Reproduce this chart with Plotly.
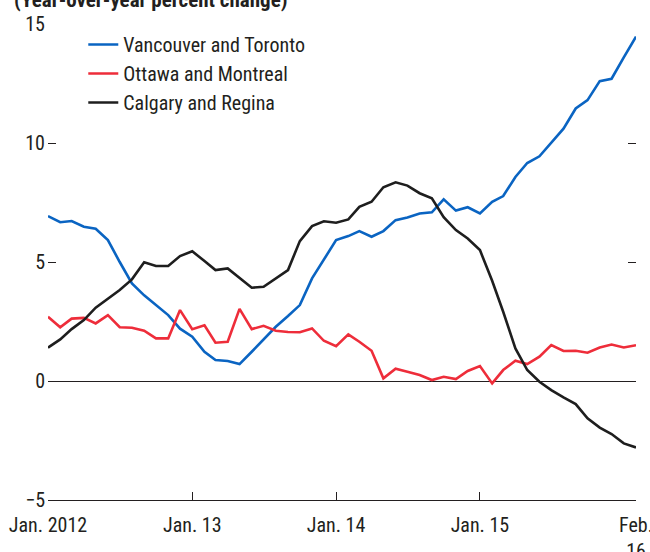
import plotly.graph_objects as go
import pandas as pd

months = pd.date_range("2012-01-01", periods=50, freq="MS")

vancouver_toronto = [6.93, 6.67, 6.72, 6.48, 6.40, 5.92, 5.00, 4.10, 3.60, 3.20,
                     2.77, 2.20, 1.86, 1.23, 0.88, 0.84, 0.71, 1.23, 1.75, 2.28,
                     2.73, 3.19, 4.31, 5.08, 5.92, 6.09, 6.30, 6.06, 6.30, 6.76,
                     6.87, 7.04, 7.09, 7.63, 7.16, 7.30, 7.04, 7.53, 7.77, 8.57,
                     9.16, 9.44, 10.00, 10.60, 11.45, 11.80, 12.60, 12.70, 13.60, 14.47]

ottawa_montreal = [2.70, 2.26, 2.62, 2.65, 2.42, 2.77, 2.26, 2.24, 2.11, 1.79,
                   1.79, 2.98, 2.18, 2.34, 1.61, 1.65, 3.03, 2.18, 2.32, 2.11,
                   2.06, 2.05, 2.21, 1.69, 1.46, 1.96, 1.65, 1.27, 0.11, 0.52,
                   0.39, 0.25, 0.04, 0.18, 0.08, 0.42, 0.63, -0.10, 0.46, 0.85,
                   0.71, 1.02, 1.51, 1.26, 1.27, 1.19, 1.41, 1.53, 1.41, 1.50]

calgary_regina = [1.40, 1.75, 2.18, 2.56, 3.08, 3.45, 3.82, 4.27, 4.99, 4.83,
                  4.83, 5.25, 5.45, 5.04, 4.66, 4.73, 4.34, 3.92, 3.96, 4.30,
                  4.66, 5.88, 6.51, 6.71, 6.65, 6.79, 7.32, 7.53, 8.14, 8.35,
                  8.21, 7.89, 7.68, 6.88, 6.34, 5.99, 5.50, 4.21, 2.91, 1.37,
                  0.46, -0.03, -0.38, -0.69, -0.97, -1.57, -1.96, -2.23, -2.62, -2.79]

series_names = ["Vancouver and Toronto", "Ottawa and Montreal", "Calgary and Regina"]
series_colors = ["#0A64C2", "#EE2D3A", "#1E1E1E"]

x_tickvals = ["2012-01-01", "2013-01-01", "2014-01-01", "2015-01-01", "2016-02-01"]
x_ticktext = ["Jan. 2012", "Jan. 13", "Jan. 14", "Jan. 15", "Feb.<br>16"]
y_tickvals = [-5, 0, 5, 10, 15]

FONT = "Roboto Condensed, DejaVu Sans Condensed, sans-serif"
TXT = "#231F20"

fig = go.Figure()
for name, vals, col in zip(series_names,
                           [vancouver_toronto, ottawa_montreal, calgary_regina],
                           series_colors):
    fig.add_trace(go.Scatter(x=months, y=vals, mode="lines", name=name,
                             legendgroup=name,
                             line=dict(color=col, width=2.6)))

fig.update_layout(
    width=650, height=552,
    margin=dict(l=48, r=14, t=24, b=52),
    paper_bgcolor="white", plot_bgcolor="white",
    font=dict(family=FONT, size=20, color=TXT),
    showlegend=True,
    legend=dict(x=0.060, y=0.998, xanchor="left", yanchor="top",
                traceorder="grouped", tracegroupgap=0,
                bgcolor="rgba(0,0,0,0)", font=dict(size=20, family=FONT, color=TXT)),
    xaxis=dict(type="date", range=["2012-01-01", "2016-02-01"],
               tickvals=x_tickvals, ticktext=x_ticktext,
               ticks="inside", ticklen=8, tickcolor=TXT, tickwidth=1,
               showline=True, linecolor=TXT, linewidth=1,
               showgrid=False, zeroline=False, ticklabelstandoff=7,
               ticklabeloverflow="allow", automargin=False,
               tickfont=dict(size=20, family=FONT, color=TXT)),
    yaxis=dict(range=[-5, 15], tickvals=y_tickvals,
               ticks="inside", ticklen=8, tickcolor=TXT, tickwidth=1,
               mirror="ticks", showline=False, showgrid=False,
               zeroline=True, zerolinecolor=TXT, zerolinewidth=1,
               ticklabelstandoff=2, automargin=False,
               tickfont=dict(size=20, family=FONT, color=TXT)),
    annotations=[dict(text="<b>(Year-over-year percent change)</b>",
                      xref="paper", yref="paper", x=0, y=1, xshift=-36, yshift=24,
                      xanchor="left", yanchor="middle", showarrow=False,
                      font=dict(size=21, family=FONT, color=TXT))],
)

fig.write_html("out.html", config={"displayModeBar": False},
               post_script="document.body.style.margin='0';")
